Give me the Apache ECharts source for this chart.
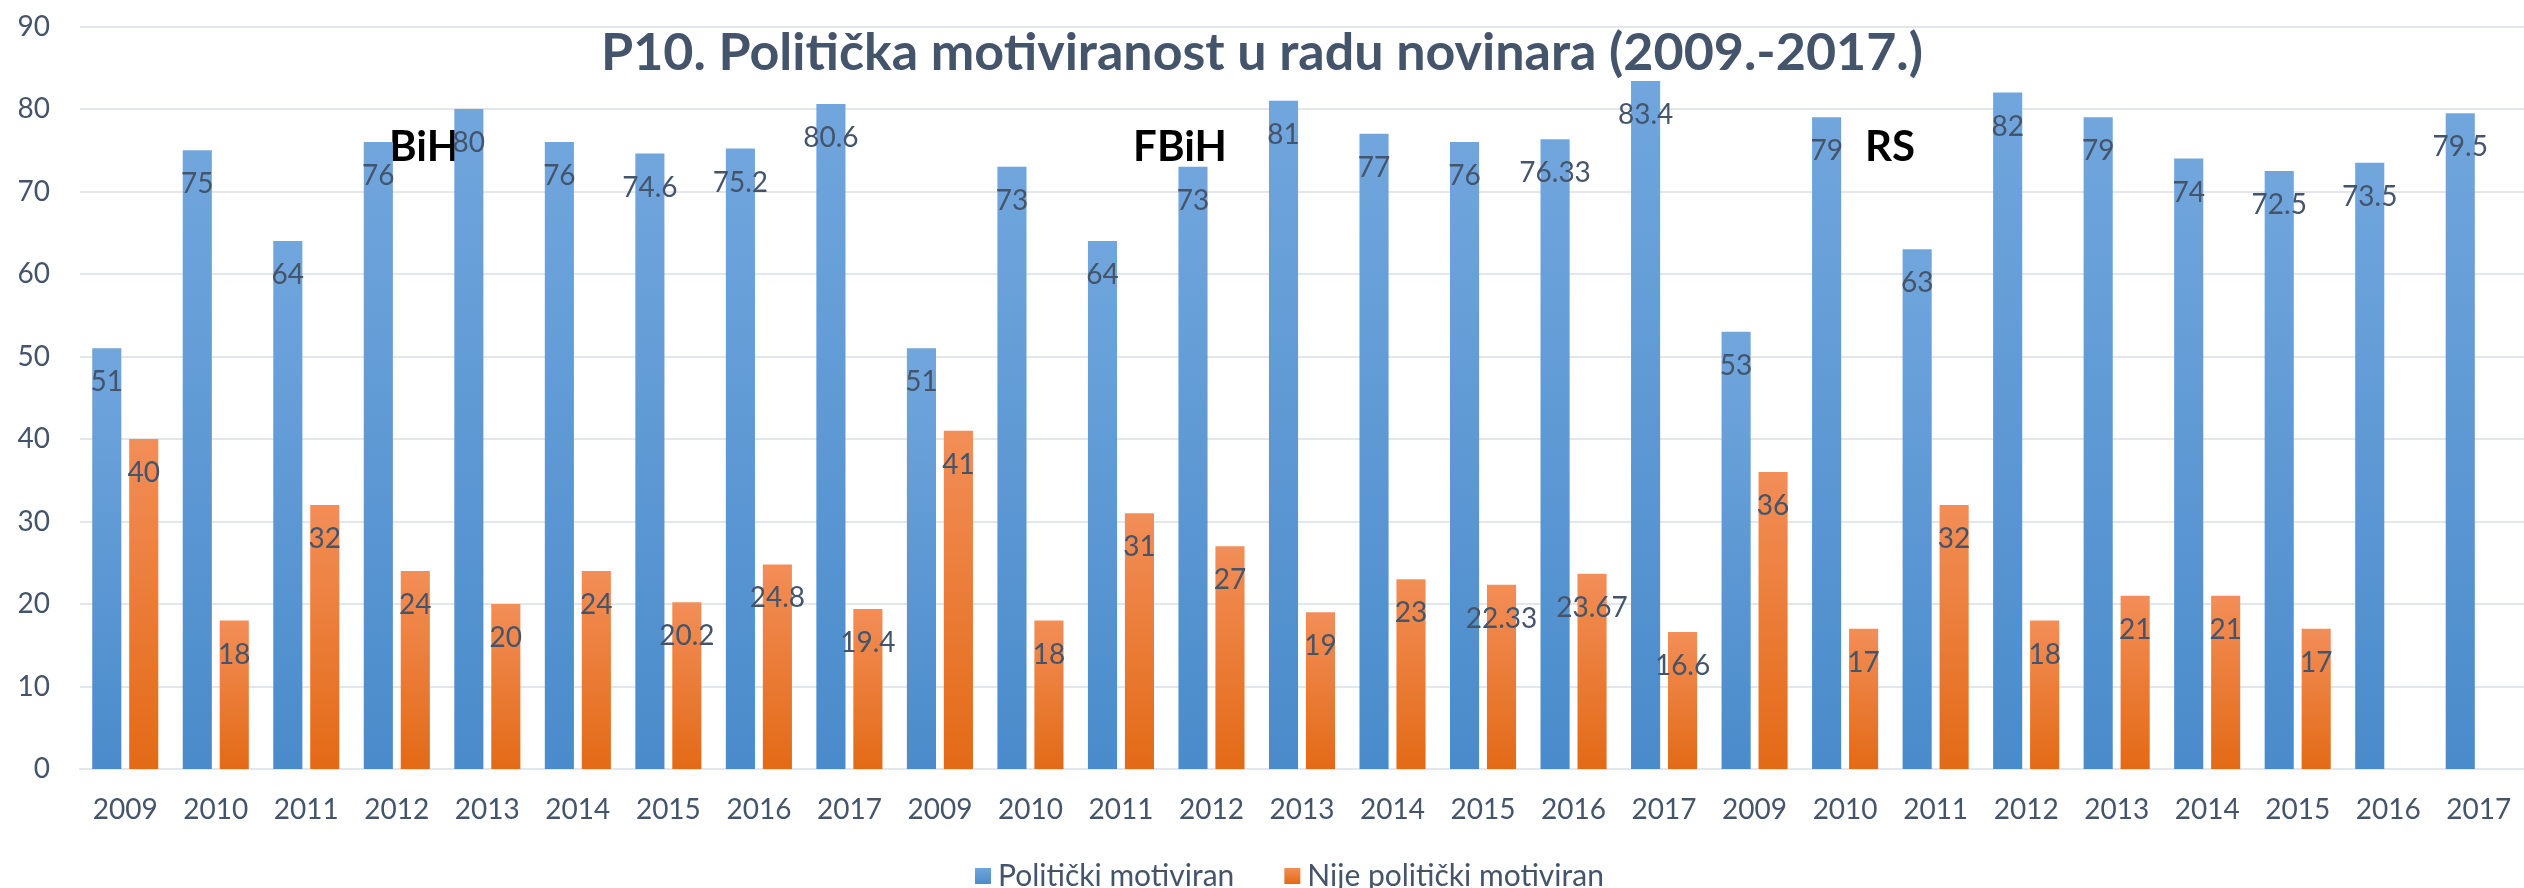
<!DOCTYPE html>
<html>
<head>
<meta charset="utf-8">
<script src="https://cdn.jsdelivr.net/npm/echarts@6/dist/echarts.min.js"></script>
<style>
  html, body { margin: 0; padding: 0; background: #fff; }
  #chart { width: 2524px; height: 888px; }
</style>
</head>
<body>
<div id="chart"></div>
<script>
const years = ['2009', '2010', '2011', '2012', '2013', '2014', '2015', '2016', '2017']
const categories = [...years, ...years, ...years]

// BiH, FBiH, RS jedan za drugim
const bihMotiviran = [51, 75, 64, 76, 80, 76, 74.6, 75.2, 80.6]
const bihNije = [40, 18, 32, 24, 20, 24, 20.2, 24.8, 19.4]
const fbihMotiviran = [51, 73, 64, 73, 81, 77, 76, 76.33, 83.4]
const fbihNije = [41, 18, 31, 27, 19, 23, 22.33, 23.67, 16.6]
const rsMotiviran = [53, 79, 63, 82, 79, 74, 72.5, 73.5, 79.5]
const rsNije = [36, 17, 32, 18, 21, 21, 17, null, null]

const regionLabels = ['BiH', 'FBiH', 'RS']
const yTicks = [0, 10, 20, 30, 40, 50, 60, 70, 80, 90]

const textColor = '#44546A'
const font = 'Lato'

const gradient = (top, bottom) => ({
  type: 'linear', x: 0, y: 0, x2: 0, y2: 1,
  colorStops: [
    { offset: 0, color: top },
    { offset: 1, color: bottom },
  ],
})

const barLabel = {
  show: true,
  position: 'insideTop',
  distance: 20,
  color: textColor,
  fontFamily: font,
  fontSize: 28,
}

const chart = echarts.init(document.getElementById('chart'), null, { renderer: 'canvas' })

chart.setOption({
  animation: false,
  title: {
    text: 'P10. Politička motiviranost u radu novinara (2009.-2017.)',
    left: 'center',
    top: 22,
    textStyle: { color: textColor, fontFamily: font, fontWeight: 'bold', fontSize: 52 },
  },
  grid: { left: 80, top: 26.5, width: 2452, bottom: 119 },
  legend: {
    left: 970,
    top: 856,
    itemWidth: 16,
    itemHeight: 16,
    itemGap: 50,
    icon: 'rect',
    textStyle: { color: textColor, fontFamily: font, fontSize: 30, padding: [0, 0, 0, 2] },
  },
  xAxis: {
    type: 'category',
    data: categories,
    axisLine: { show: true, lineStyle: { color: '#E3E6EB', width: 2 } },
    axisTick: { show: false },
    axisLabel: { color: textColor, fontFamily: font, fontSize: 28, margin: 27, interval: 0 },
  },
  yAxis: {
    type: 'value',
    min: yTicks[0],
    max: yTicks[yTicks.length - 1],
    interval: 10,
    axisLine: { show: false },
    axisTick: { show: false },
    axisLabel: { color: textColor, fontFamily: font, fontSize: 28, margin: 30 },
    splitLine: { lineStyle: { color: '#E3E6EB', width: 2 } },
  },
  series: [
    {
      name: 'Politički motiviran',
      type: 'bar',
      data: [...bihMotiviran, ...fbihMotiviran, ...rsMotiviran],
      barGap: '27%',
      barCategoryGap: '27%',
      itemStyle: { color: gradient('#71A6DD', '#4A8BCB') },
      label: barLabel,
    },
    {
      name: 'Nije politički motiviran',
      type: 'bar',
      data: [...bihNije, ...fbihNije, ...rsNije],
      itemStyle: { color: gradient('#F28E58', '#E36A16') },
      label: barLabel,
    },
  ],
  graphic: [
    { type: 'text', x: 424, y: 147, style: { text: regionLabels[0], fill: '#000', font: 'bold 42px Lato', textAlign: 'center', textVerticalAlign: 'middle' } },
    { type: 'text', x: 1180, y: 147, style: { text: regionLabels[1], fill: '#000', font: 'bold 42px Lato', textAlign: 'center', textVerticalAlign: 'middle' } },
    { type: 'text', x: 1890, y: 147, style: { text: regionLabels[2], fill: '#000', font: 'bold 42px Lato', textAlign: 'center', textVerticalAlign: 'middle' } },
  ],
})
</script>
</body>
</html>
